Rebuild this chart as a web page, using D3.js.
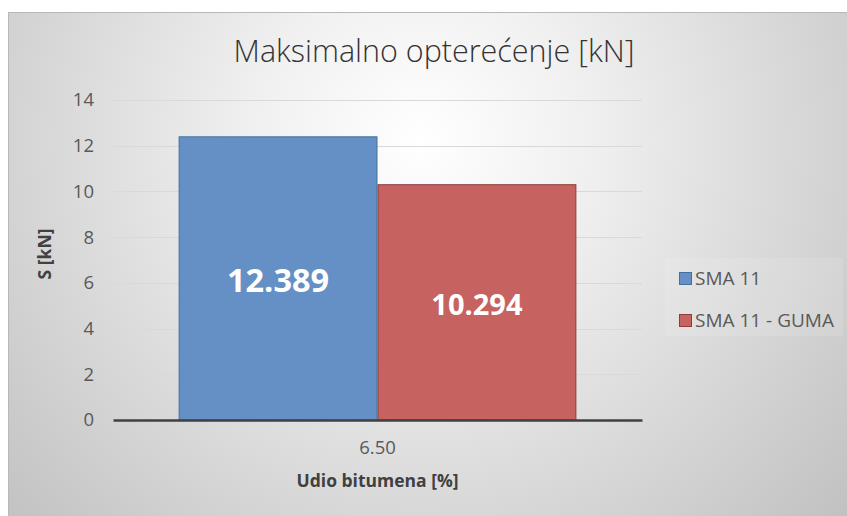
<!DOCTYPE html>
<html>
<head>
<meta charset="utf-8">
<script src="https://cdn.jsdelivr.net/npm/d3@7"></script>
<style>
  html, body { margin: 0; padding: 0; background: #ffffff; }
  svg { display: block; }
  text { font-family: "Open Sans", Lato, sans-serif; }
</style>
</head>
<body>
<svg id="chart" width="847" height="516"></svg>
<script>
// Chart data
const categories = ["6.50"];
const seriesNames = ["SMA 11", "SMA 11 - GUMA"];
const seriesValues = [[12.389], [10.294]];
const yTicks = [0, 2, 4, 6, 8, 10, 12, 14];
const seriesFill = ["#6590c5", "#c6625f"];
const seriesStroke = ["#41719c", "#8e3b39"];

const svg = d3.select("#chart");
const W = 847, H = 516;

// Chart-area background: soft radial grey-to-white gradient
const defs = svg.append("defs");
const grad = defs.append("radialGradient")
  .attr("id", "bg")
  .attr("gradientUnits", "userSpaceOnUse")
  .attr("cx", 420).attr("cy", 140).attr("r", 560)
  .attr("fx", 420).attr("fy", 140);
grad.append("stop").attr("offset", "0%").attr("stop-color", "#ffffff");
grad.append("stop").attr("offset", "30%").attr("stop-color", "#f0f0f0");
grad.append("stop").attr("offset", "100%").attr("stop-color", "#c2c2c2");

svg.append("rect")
  .attr("x", 8.5).attr("y", 12.5)
  .attr("width", W - 8).attr("height", H - 12)
  .attr("fill", "url(#bg)")
  .attr("stroke", "#b8b8b8").attr("stroke-width", 1);

// Plot area
const plot = { left: 113, right: 642, top: 100, bottom: 420 };

const x0 = d3.scaleBand()
  .domain(categories)
  .range([plot.left, plot.right])
  .paddingInner(0)
  .paddingOuter(0.165);

const x1 = d3.scaleBand()
  .domain(seriesNames)
  .range([0, x0.bandwidth()])
  .padding(0);

const y = d3.scaleLinear().domain([0, 14]).range([plot.bottom, plot.top]);

// Gridlines
svg.append("g")
  .selectAll("line")
  .data(yTicks.filter(d => d > 0))
  .join("line")
  .attr("x1", plot.left).attr("x2", plot.right)
  .attr("y1", d => Math.round(y(d)) + 0.5)
  .attr("y2", d => Math.round(y(d)) + 0.5)
  .attr("stroke", "#d9d9d9").attr("stroke-width", 1);

// Y axis labels
const yAxis = d3.axisLeft(y).tickValues(yTicks).tickSize(0).tickPadding(0).tickFormat(d3.format("d"));
const yg = svg.append("g")
  .attr("transform", `translate(${plot.left - 19},0)`)
  .call(yAxis);
yg.select(".domain").remove();
yg.selectAll("text")
  .attr("font-size", 18.5)
  .attr("fill", "#595959")
  .attr("font-family", "'Open Sans', sans-serif");

// Bars
const groups = svg.append("g")
  .selectAll("g")
  .data(categories)
  .join("g")
  .attr("transform", d => `translate(${x0(d)},0)`);

groups.selectAll("rect")
  .data((c, ci) => seriesNames.map((s, si) => ({ s, si, v: seriesValues[si][ci] })))
  .join("rect")
  .attr("x", d => x1(d.s) + 0.5)
  .attr("y", d => y(d.v))
  .attr("width", x1.bandwidth() - 1)
  .attr("height", d => y(0) - y(d.v))
  .attr("fill", d => seriesFill[d.si])
  .attr("stroke", d => seriesStroke[d.si])
  .attr("stroke-width", 1);

// Value labels inside bars
const labelSize = [32.5, 29];
groups.selectAll("text.val")
  .data((c, ci) => seriesNames.map((s, si) => ({ s, si, v: seriesValues[si][ci] })))
  .join("text")
  .attr("class", "val")
  .attr("x", d => x1(d.s) + x1.bandwidth() / 2)
  .attr("y", d => (y(d.v) + y(0)) / 2 + 2)
  .attr("dy", "0.36em")
  .attr("text-anchor", "middle")
  .attr("font-weight", "bold")
  .attr("font-size", d => labelSize[d.si])
  .attr("fill", "#ffffff")
  .text(d => d3.format(".3f")(d.v));

// X axis baseline and category label
const xAxis = d3.axisBottom(x0).tickSize(0).tickPadding(0);
const xg = svg.append("g")
  .attr("transform", `translate(0,${plot.bottom})`)
  .call(xAxis);
xg.select(".domain")
  .attr("stroke", "#404040").attr("stroke-width", 2.5);
xg.selectAll("text")
  .attr("font-size", 18.5)
  .attr("fill", "#595959")
  .attr("font-family", "'Open Sans', sans-serif")
  .attr("dy", "0")
  .attr("y", 34);

// Title
svg.append("text")
  .attr("x", 434).attr("y", 62)
  .attr("text-anchor", "middle")
  .attr("font-size", 30.5)
  .attr("font-weight", 300)
  .attr("fill", "#333333")
  .text("Maksimalno opterećenje [kN]");

// Axis titles
svg.append("text")
  .attr("x", 377.5).attr("y", 487)
  .attr("text-anchor", "middle")
  .attr("font-size", 17.5)
  .attr("font-weight", "bold")
  .attr("fill", "#404040")
  .text("Udio bitumena [%]");

svg.append("text")
  .attr("transform", "translate(51,254) rotate(-90)")
  .attr("text-anchor", "middle")
  .attr("font-size", 17.5)
  .attr("font-weight", "bold")
  .attr("fill", "#404040")
  .text("S [kN]");

// Legend
const legend = svg.append("g").attr("transform", "translate(665,258)");
legend.append("rect")
  .attr("width", 178).attr("height", 78)
  .attr("fill", "#ffffff").attr("fill-opacity", 0.12);
const items = legend.selectAll("g.item")
  .data(seriesNames)
  .join("g")
  .attr("class", "item")
  .attr("transform", (d, i) => `translate(14,${14 + i * 42})`);
items.append("rect")
  .attr("x", 0.5).attr("y", 0.5)
  .attr("width", 12).attr("height", 12)
  .attr("fill", (d, i) => seriesFill[i])
  .attr("stroke", (d, i) => seriesStroke[i]);
items.append("text")
  .attr("x", 16).attr("y", 13)
  .attr("font-size", 19)
  .attr("fill", "#595959")
  .text(d => d);
</script>
</body>
</html>
